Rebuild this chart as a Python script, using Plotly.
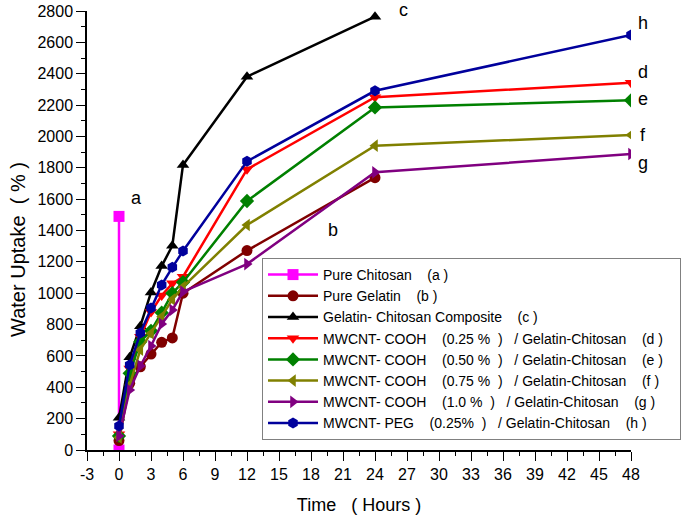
import plotly.graph_objects as go

NB = "\u00a0"

# Time points (hours)
time_a = [0, 0]
time_b = [0, 1, 2, 3, 4, 5, 6, 12, 24]
time_c = [0, 1, 2, 3, 4, 5, 6, 12, 24]
time_long = [0, 1, 2, 3, 4, 5, 6, 12, 24, 48]

# Water uptake (%)
pure_chitosan = [0, 1490]
pure_gelatin = [60, 425, 531, 612, 687, 715, 1000, 1272, 1737]
gel_chi = [205, 591, 790, 1005, 1173, 1303, 1818, 2381, 2764]
cooh_025 = [100, 520, 723, 880, 985, 1063, 1105, 1790, 2250, 2343]
cooh_050 = [90, 489, 691, 760, 876, 1000, 1070, 1588, 2185, 2230]
cooh_075 = [80, 414, 640, 744, 850, 960, 1040, 1435, 1941, 2009]
cooh_100 = [90, 383, 536, 663, 804, 893, 1010, 1186, 1771, 1888]
peg_025 = [153, 542, 746, 905, 1053, 1165, 1269, 1841, 2291, 2647]

# Axis ticks
x_ticks = list(range(-3, 49, 3))
x_ticklabels = [str(v) for v in x_ticks]

# Curve labels (data units) and pixel nudges
label_text = ["a", "b", "c", "h", "d", "e", "f", "g"]
label_x = [1.66, 20.1, 26.65, 48, 48, 48, 48, 48]
label_y = [1605, 1403, 2800, 2721, 2413, 2237, 2009, 1830]
label_dx = [0, 0, 0, 12, 12, 12, 12, 12]
label_dy = [0, 0, 1, 0, 0, 0, 0, 0]

def sp(n):
    return NB * n

names = [
    "Pure Chitosan" + sp(4) + "(a )",
    "Pure Gelatin" + sp(4) + "(b )",
    "Gelatin- Chitosan Composite" + sp(4) + "(c )",
    "MWCNT- COOH" + sp(4) + "(0.25 %" + sp(2) + ")" + sp(3) + "/ Gelatin-Chitosan" + sp(4) + "(d )" + sp(3),
    "MWCNT- COOH" + sp(4) + "(0.50 %" + sp(2) + ")" + sp(3) + "/ Gelatin-Chitosan" + sp(4) + "(e )",
    "MWCNT- COOH" + sp(4) + "(0.75 %" + sp(2) + ")" + sp(3) + "/ Gelatin-Chitosan" + sp(4) + "(f )",
    "MWCNT- COOH" + sp(4) + "(1.0 %" + sp(2) + ")" + sp(3) + "/ Gelatin-Chitosan" + sp(4) + "(g )",
    "MWCNT- PEG" + sp(4) + "(0.25%" + sp(2) + ")" + sp(3) + "/ Gelatin-Chitosan" + sp(4) + "(h )",
]

series = [
    (time_a, pure_chitosan, "#FF00FF", "square"),
    (time_b, pure_gelatin, "#800000", "circle"),
    (time_c, gel_chi, "#000000", "triangle-up"),
    (time_long, cooh_025, "#FF0000", "triangle-down"),
    (time_long, cooh_050, "#008000", "diamond"),
    (time_long, cooh_075, "#808000", "triangle-left"),
    (time_long, cooh_100, "#800080", "triangle-right"),
    (time_long, peg_025, "#00009C", "hexagon"),
]

fig = go.Figure()
for (xs, ys, col, sym), nm in zip(series, names):
    fig.add_trace(go.Scatter(
        x=xs, y=ys, name=nm, mode="lines+markers",
        line=dict(color=col, width=2.5),
        marker=dict(symbol=sym, size=11, color=col),
    ))

for t, lx, ly, dx, dy in zip(label_text, label_x, label_y, label_dx, label_dy):
    fig.add_annotation(x=lx, y=ly, text=t, showarrow=False,
                       xanchor="center", yanchor="middle", xshift=dx, yshift=dy,
                       font=dict(size=18, color="black", family="Arial"))

# Y axis title drawn as rotated text
fig.add_annotation(x=-3, y=1276, text="Water Uptake" + sp(2) + "( % )", textangle=-90,
                   showarrow=False, xanchor="center", yanchor="middle", xshift=-69,
                   font=dict(size=20, color="black", family="Arial"))

axis_common = dict(
    showline=True, linecolor="black", linewidth=1.5,
    ticks="outside", tickcolor="black", ticklen=9, tickwidth=1.2,
    showgrid=False, zeroline=False, mirror=False, automargin=False,
    ticklabeloverflow="allow",
    tickfont=dict(size=16, color="black", family="Arial"),
)

fig.update_xaxes(range=[-3, 48], tickmode="array", tickvals=x_ticks, ticktext=x_ticklabels,
                 minor=dict(ticks="outside", ticklen=4, dtick=1.5, tick0=-3, tickcolor="black"),
                 title=dict(text="Time" + sp(3) + "( Hours )", font=dict(size=18, family="Arial", color="black"),
                            standoff=16),
                 **axis_common)
fig.update_yaxes(range=[0, 2800], tick0=0, dtick=200,
                 minor=dict(ticks="outside", ticklen=4, dtick=100, tickcolor="black"),
                 **axis_common)

fig.update_layout(
    width=684, height=523,
    margin=dict(l=87, r=53, t=11, b=73, autoexpand=False),
    plot_bgcolor="white", paper_bgcolor="white",
    font=dict(family="Arial", color="black"),
    legend=dict(x=0.3217, y=0.4374, xanchor="left", yanchor="top",
                bgcolor="white", bordercolor="#808080", borderwidth=1,
                itemwidth=50,
                font=dict(size=14, family="Arial", color="black"),
                tracegroupgap=0),
)

fig.write_html("out.html", config={"displayModeBar": False},
               post_script="document.body.style.margin='0';")
